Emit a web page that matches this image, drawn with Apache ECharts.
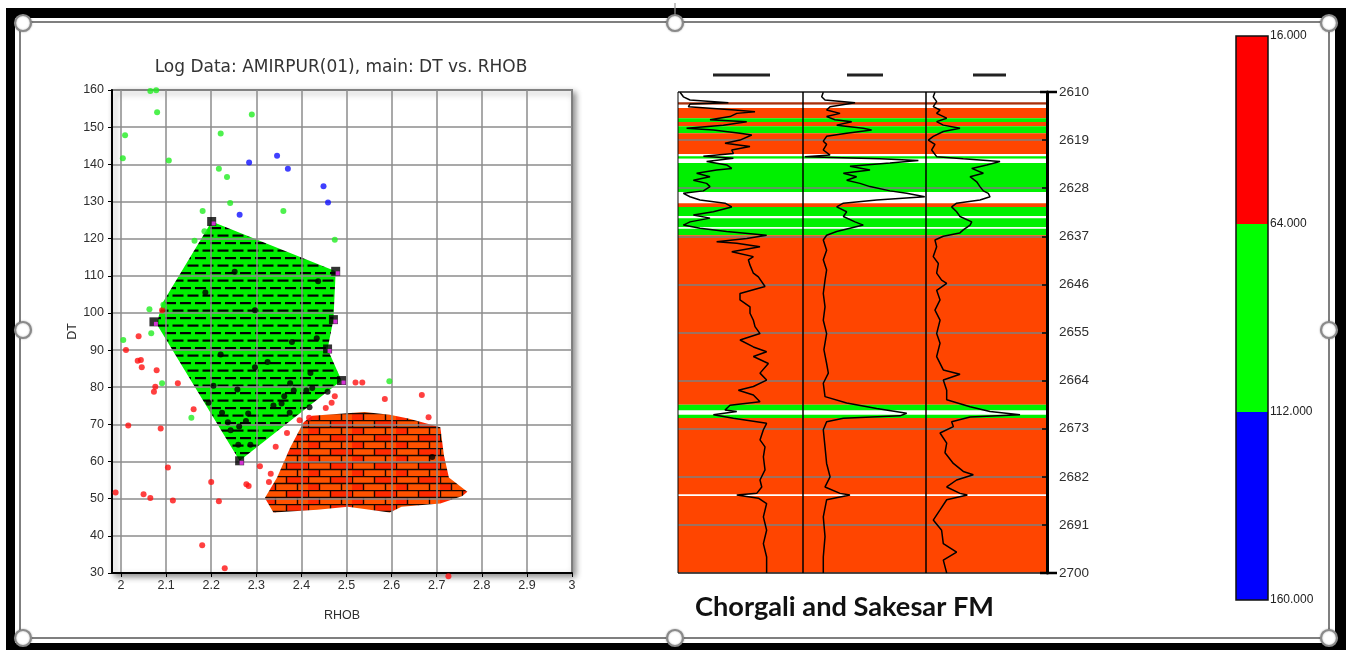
<!DOCTYPE html>
<html>
<head>
<meta charset="utf-8">
<script src="https://cdn.jsdelivr.net/npm/echarts@6/dist/echarts.min.js"></script>
<style>
  html, body { margin: 0; padding: 0; background: #fff; }
  #chart { width: 1346px; height: 650px; }
</style>
</head>
<body>
<div id="chart"></div>
<script>
// ---------- Crossplot: DT vs RHOB ----------
const plotTitle = 'Log Data: AMIRPUR(01), main: DT vs. RHOB';
const formationLabel = 'Chorgali and Sakesar FM';
const rhobTicks = [2, 2.1, 2.2, 2.3, 2.4, 2.5, 2.6, 2.7, 2.8, 2.9, 3];

const greenPoints = [
  [2.065, 159.7], [2.078, 159.9], [2.080, 154.0], [2.290, 153.4], [2.009, 147.8],
  [2.221, 148.3], [2.004, 141.6], [2.106, 141.0], [2.217, 138.8], [2.235, 136.6],
  [2.242, 129.6], [2.181, 127.4], [2.360, 127.4], [2.163, 119.4], [2.474, 119.7],
  [2.185, 122.0], [2.063, 101.0], [2.094, 102.2], [2.067, 94.5], [2.005, 92.7],
  [2.091, 81.1], [2.156, 71.8], [2.595, 81.6]
];
const bluePoints = [
  [2.284, 140.5], [2.346, 142.3], [2.370, 138.8], [2.449, 134.1], [2.459, 129.7], [2.263, 126.4]
];
const redPoints = [
  [1.988, 51.7], [2.011, 90.0], [2.039, 93.7], [2.037, 87.1], [2.044, 87.3], [2.046, 85.4],
  [2.079, 84.6], [2.073, 78.8], [2.076, 80.1], [2.016, 69.7], [2.088, 68.9], [2.126, 81.1],
  [2.161, 74.1], [2.104, 58.4], [2.050, 51.2], [2.065, 50.2], [2.115, 49.5], [2.200, 54.5],
  [2.217, 49.3], [2.180, 37.5], [2.230, 31.3], [2.278, 53.9], [2.283, 53.4], [2.308, 58.7],
  [2.332, 56.7], [2.328, 54.5], [2.343, 64.0], [2.368, 67.7], [2.396, 71.1], [2.417, 71.8],
  [2.454, 74.4], [2.467, 75.8], [2.474, 77.6], [2.520, 81.3], [2.535, 81.3], [2.585, 76.8],
  [2.667, 77.9], [2.682, 71.9], [2.726, 29.1], [2.091, 100.7]
];
const blackPoints = [
  [2.252, 111.1], [2.187, 105.5], [2.437, 108.5], [2.297, 100.7], [2.379, 92.2], [2.434, 93.2],
  [2.221, 88.8], [2.325, 86.8], [2.297, 85.4], [2.420, 83.8], [2.205, 80.4], [2.375, 81.1],
  [2.258, 79.4], [2.383, 79.1], [2.411, 79.1], [2.424, 79.8], [2.458, 78.8], [2.194, 75.8],
  [2.362, 77.6], [2.338, 75.1], [2.356, 75.6], [2.418, 74.6], [2.224, 73.1], [2.282, 72.9],
  [2.374, 73.1], [2.277, 70.9], [2.237, 70.6], [2.243, 68.4], [2.262, 69.4], [2.260, 64.5],
  [2.287, 64.5], [2.690, 61.2]
];
// Zone outline handles and zone polygons
const zoneVertices = [
  [2.201, 124.6], [2.476, 111.2], [2.471, 98.2], [2.458, 90.3], [2.489, 81.8], [2.263, 60.2], [2.073, 97.6]
];
const shaleZone = [
  [2.201, 124.6], [2.476, 111.2], [2.471, 98.2], [2.458, 90.3], [2.489, 81.8],
  [2.263, 60.2], [2.079, 97.0], [2.091, 102.5]
];
const limestoneZone = [
  [2.424, 72.3], [2.540, 73.3], [2.596, 72.6], [2.637, 71.6], [2.708, 69.2], [2.716, 61.7],
  [2.727, 55.7], [2.768, 51.9], [2.757, 50.7], [2.708, 48.7], [2.622, 47.8], [2.596, 46.3],
  [2.503, 47.8], [2.435, 47.0], [2.338, 46.3], [2.319, 50.2], [2.346, 55.7], [2.375, 63.7],
  [2.405, 70.6]
];

// ---------- Log tracks ----------
const depthMin = 2610, depthMax = 2700, depthStep = 9;
// [top depth, bottom depth, facies code]  0 white, 1 limestone, 2 shale, 3 dark band
const faciesBands = [
  [2610.0, 2611.9, 0], [2611.9, 2612.4, 3], [2612.4, 2613.0, 0], [2613.0, 2614.9, 1],
  [2614.9, 2615.6, 2], [2615.6, 2616.4, 1], [2616.4, 2617.7, 2], [2617.7, 2621.6, 1],
  [2621.6, 2622.0, 0], [2622.0, 2622.5, 2], [2622.5, 2623.3, 0], [2623.3, 2628.7, 2],
  [2628.7, 2630.8, 0], [2630.8, 2631.5, 1], [2631.5, 2633.2, 2], [2633.2, 2633.6, 0],
  [2633.6, 2635.3, 2], [2635.3, 2635.6, 0], [2635.6, 2636.8, 2], [2636.8, 2668.5, 1],
  [2668.5, 2669.6, 2], [2669.6, 2670.4, 0], [2670.4, 2671.0, 2], [2671.0, 2685.3, 1],
  [2685.3, 2685.6, 0], [2685.6, 2700.0, 1]
];
const faciesColors = ['#ffffff', '#ff4500', '#00f000', '#a8300c'];

// curve readings: [track scale value 0-100, depth]
const curve1 = [
  [1.6,2610.06],[4.3,2610.9],[9.6,2611.5],[40.3,2612.0],[9.6,2612.25],[8.3,2612.75],[45.6,2613.37],
  [61.6,2613.7],[47,2614.0],[41.6,2614.6],[25.6,2615.2],[55,2615.55],[36.3,2616.2],[6.9,2616.8],
  [28.3,2617.1],[49.6,2617.7],[59,2618.05],[49.6,2619.0],[37.6,2619.6],[57.6,2620.2],[43,2620.85],
  [44.3,2621.5],[20.3,2622.0],[44.3,2622.4],[22.9,2623.0],[38.9,2623.65],[43,2624.3],[30.9,2624.6],
  [14.9,2625.2],[25.6,2625.85],[12.3,2626.5],[22.9,2627.1],[25.6,2627.7],[20.3,2628.5],[4.3,2628.96],
  [9.6,2629.6],[17.6,2630.2],[37.6,2630.8],[43,2631.5],[28.3,2632.4],[12.3,2633.0],[25.6,2633.6],
  [9.6,2634.3],[4.3,2634.9],[17.6,2635.5],[38.9,2636.1],[70.9,2636.8],[55,2637.4],[30.9,2638.0],
  [47,2638.3],[65.6,2638.95],[43,2639.9],[60.3,2640.8],[56.3,2641.4],[57.6,2642.4],[60.3,2643.9],
  [64.3,2644.6],[69.6,2646.4],[49.6,2647.7],[49.6,2648.9],[57.6,2650.2],[57.6,2651.4],[60.3,2652.7],
  [61.6,2653.9],[65.6,2655.2],[49.6,2656.4],[60.3,2657.7],[70.9,2658.6],[60.3,2659.5],[72.3,2660.8],
  [65.6,2662.6],[70.9,2663.9],[60.3,2665.1],[48.3,2665.8],[60.3,2666.7],[65.6,2667.95],[41.6,2668.6],
  [37.6,2669.5],[47,2669.8],[28.3,2670.4],[44.3,2671.05],[70.9,2672.0],[68.3,2673.2],[65.6,2675.1],
  [69.6,2676.4],[68.3,2678.25],[69.6,2680.7],[65.6,2682.6],[67,2683.9],[63,2685.1],[47,2685.4],
  [64.3,2686.0],[70.9,2687.0],[68.3,2689.5],[70.9,2692.0],[68.3,2694.5],[70.9,2697.0],[70.9,2700]
];
const curve2 = [
  [16.5,2610.06],[15.2,2610.9],[17.9,2611.5],[42.3,2612.0],[22,2612.75],[19.2,2613.37],[30.1,2614.0],
  [19.2,2614.6],[26,2615.2],[39.6,2615.55],[27.4,2616.2],[49,2616.8],[55.8,2617.1],[35.5,2617.7],
  [19.2,2618.3],[16.5,2619.2],[19.2,2619.8],[16.5,2620.85],[22,2621.8],[1.6,2622.1],[62.6,2622.5],
  [93.8,2622.8],[70.7,2623.3],[38.2,2623.9],[54.5,2624.6],[32.8,2625.2],[43.6,2625.85],[35.5,2626.5],
  [46.3,2627.1],[54.5,2627.7],[70.7,2628.5],[84.3,2628.96],[99,2629.6],[59.9,2630.2],[32.8,2630.8],
  [27.4,2631.5],[35.5,2632.4],[32.8,2633.3],[42.3,2634.3],[49,2634.9],[38.2,2635.5],[27.4,2636.1],
  [19.2,2636.8],[16.5,2637.7],[19.2,2639.6],[16.5,2641.4],[19.2,2643.3],[17.9,2645.2],[16.5,2647.7],
  [17.9,2650.2],[16.5,2652.7],[19.2,2655.2],[17,2658.2],[19.2,2660.8],[20.6,2662.6],[16.5,2664.5],
  [17.9,2667],[35.5,2668.2],[59.9,2669.2],[84.3,2670.1],[78.9,2670.6],[32.8,2671.05],[19.2,2671.7],
  [16.5,2673.2],[17.9,2676.4],[19.2,2679.5],[22,2682],[17.9,2683.9],[30.1,2685.1],[38.2,2685.4],
  [19.2,2686.3],[16.5,2689.5],[17.9,2693.2],[16.5,2697],[16.5,2700]
];
const curve3 = [
  [7.4,2610.06],[6,2610.9],[8.8,2611.8],[6,2612.75],[11.6,2613.37],[8.8,2614.0],[17.1,2614.9],
  [8.8,2615.55],[14.3,2616.2],[28.1,2616.8],[14.3,2617.4],[6,2618.3],[1.9,2619.0],[7.4,2619.8],
  [4.7,2620.85],[8.8,2622.1],[30.8,2622.5],[61.2,2623.0],[50.2,2623.65],[37.8,2624.3],[47.4,2625.2],
  [36.4,2625.85],[41.9,2626.8],[44.6,2627.7],[47.4,2628.5],[51.5,2628.96],[52.9,2629.6],[44.6,2630.2],
  [25.3,2630.8],[21.2,2631.5],[25.3,2632.4],[28.1,2633.3],[37.8,2634.3],[36.4,2634.9],[30.8,2635.8],
  [27.8,2636.4],[14.3,2637.0],[7.4,2637.7],[8.8,2638.95],[6,2640.8],[10.2,2642.1],[8.8,2643.9],
  [12.9,2645.2],[17.1,2645.8],[8.8,2647.1],[11.6,2648.9],[7.4,2650.8],[11.6,2652.7],[8.8,2655.2],
  [11.6,2657],[8.8,2659.5],[14.3,2662],[28.1,2662.8],[14.3,2663.9],[17.1,2665.8],[17.1,2667.6],
  [36.4,2668.9],[52.9,2669.8],[77.7,2670.4],[36.4,2670.8],[21.2,2671.7],[22.6,2672.6],[11.6,2673.8],
  [17.1,2675.7],[15.7,2677.5],[22.6,2679.5],[30.8,2681],[39.1,2681.6],[25.3,2682.6],[17.1,2683.9],
  [28.1,2685.1],[34.2,2685.4],[17.1,2686.3],[11.6,2688.2],[6,2690.1],[12.9,2692],[14.3,2694.5],
  [25.3,2696.1],[14.3,2697.6],[17.1,2700]
];

// ---------- Colour scale ----------
const scaleStops = [16, 64, 112, 160];
const scaleColors = ['#ff0000', '#00ff00', '#0000ff'];

// ---------- fill patterns ----------
function makeShalePattern() {
  const c = document.createElement('canvas');
  c.width = 30; c.height = 15;
  const g = c.getContext('2d');
  g.fillStyle = '#00f000';
  g.fillRect(0, 0, 30, 15);
  g.fillStyle = '#000';
  g.fillRect(0, 2, 11, 2.2); g.fillRect(15, 2, 11, 2.2);
  g.fillRect(7.5, 9.5, 11, 2.2); g.fillRect(22.5, 9.5, 7.5, 2.2); g.fillRect(0, 9.5, 3.5, 2.2);
  return c;
}
function makeBrickPattern() {
  const w = 44, h = 14;
  const c = document.createElement('canvas');
  c.width = w; c.height = h;
  const g = c.getContext('2d');
  g.fillStyle = '#ff5200';
  g.fillRect(0, 0, w, h);
  g.fillStyle = '#ff2a00';
  g.fillRect(22, 0, 22, 7); g.fillRect(0, 7, 11, 7);
  g.strokeStyle = '#1a0800';
  g.lineWidth = 1.4;
  g.beginPath();
  g.moveTo(0, 0.5); g.lineTo(w, 0.5);
  g.moveTo(0, 7.5); g.lineTo(w, 7.5);
  g.moveTo(0.5, 0); g.lineTo(0.5, 7);
  g.moveTo(22.5, 0); g.lineTo(22.5, 7);
  g.moveTo(11.5, 7); g.lineTo(11.5, 14);
  g.moveTo(33.5, 7); g.lineTo(33.5, 14);
  g.stroke();
  return c;
}
const shalePattern = { image: makeShalePattern(), repeat: 'repeat' };
const brickPattern = { image: makeBrickPattern(), repeat: 'repeat' };

const chart = echarts.init(document.getElementById('chart'), null, { renderer: 'canvas' });

const axisFont = 'Liberation Sans';
const labelColor = '#2e2e2e';

function zoneSeries(points, fill) {
  return {
    type: 'custom', xAxisIndex: 0, yAxisIndex: 0, z: -1, silent: true,
    data: [points[0]],
    renderItem: (params, api) => ({
      type: 'polygon',
      shape: { points: points.map(p => api.coord(p)) },
      style: { fill: fill, stroke: null }
    })
  };
}

function bandSeries(idx) {
  return {
    type: 'custom', xAxisIndex: idx, yAxisIndex: idx, z: 1, silent: true,
    data: faciesBands,
    renderItem: (params, api) => {
      const p1 = api.coord([0, api.value(0)]);
      const p2 = api.coord([100, api.value(1)]);
      return {
        type: 'rect',
        shape: { x: p1[0], y: p1[1], width: p2[0] - p1[0], height: p2[1] - p1[1] },
        style: { fill: faciesColors[api.value(2)] }
      };
    }
  };
}

function curveSeries(idx, data) {
  return {
    type: 'line', xAxisIndex: idx, yAxisIndex: idx, z: 4, silent: true,
    data: data, symbol: 'none', animation: false,
    lineStyle: { color: '#000', width: 1.5 }
  };
}

const trackGrids = [
  { left: 678, top: 92, width: 125, height: 481 },
  { left: 803, top: 92, width: 123, height: 481 },
  { left: 926, top: 92, width: 121, height: 481 }
];

const grids = [
  { left: 112, top: 90, width: 460, height: 483, show: true, z: -5,
    backgroundColor: '#fff', borderColor: '#333', borderWidth: 1.5,
    shadowColor: 'rgba(0,0,0,0.45)', shadowBlur: 6, shadowOffsetX: 3, shadowOffsetY: 3 }
].concat(trackGrids.map(g => Object.assign({ show: true, z: 3, backgroundColor: 'transparent',
  borderColor: '#000', borderWidth: 1 }, g)))
 .concat([{ left: 1236, top: 36, width: 32, height: 564, show: true, z: 3,
   backgroundColor: 'transparent', borderColor: '#111', borderWidth: 1.5 }]);

const xAxes = [
  {
    gridIndex: 0, type: 'value', min: 1.98, max: 3,
    name: 'RHOB', nameLocation: 'middle', nameGap: 36,
    nameTextStyle: { fontFamily: axisFont, fontSize: 12.5, color: labelColor },
    axisLine: { lineStyle: { color: '#000', width: 2 } },
    axisTick: { customValues: rhobTicks, length: 4, lineStyle: { color: '#000' } },
    axisLabel: { customValues: rhobTicks, margin: 6, fontFamily: axisFont, fontSize: 12.5,
      color: labelColor, formatter: v => String(Math.round(v * 10) / 10) },
    splitLine: { show: true, lineStyle: { color: '#8c8c8c', width: 1.5 } }
  }
];
const yAxes = [
  {
    gridIndex: 0, type: 'value', min: 30, max: 160, interval: 10,
    name: 'DT', nameLocation: 'middle', nameGap: 33,
    nameTextStyle: { fontFamily: axisFont, fontSize: 12.5, color: labelColor },
    axisLine: { show: true, lineStyle: { color: '#000', width: 2 } },
    axisTick: { show: true, length: 4, lineStyle: { color: '#000' } },
    axisLabel: { margin: 8, fontFamily: axisFont, fontSize: 12.5, color: labelColor },
    splitLine: { show: true, lineStyle: { color: '#8c8c8c', width: 1.5 } }
  }
];
trackGrids.forEach((g, i) => {
  const idx = i + 1;
  xAxes.push({ gridIndex: idx, type: 'value', min: 0, max: 100, show: false });
  const last = i === trackGrids.length - 1;
  yAxes.push({
    gridIndex: idx, type: 'value', inverse: true, min: depthMin, max: depthMax, interval: depthStep,
    position: 'right', z: 2,
    axisLine: { show: last, onZero: false, lineStyle: { color: '#000', width: 3 } },
    axisTick: { show: last, inside: true, length: 5, lineStyle: { color: '#000', width: 1.5 } },
    axisLabel: { show: last, margin: 12, fontFamily: axisFont, fontSize: 13.5, color: labelColor,
      formatter: v => String(v) },
    splitLine: { show: true, lineStyle: { color: '#7f7f7f', width: 1.5 } }
  });
});
xAxes.push({ gridIndex: 4, type: 'value', min: 0, max: 1, show: false });
yAxes.push({
  gridIndex: 4, type: 'value', inverse: true, min: 16, max: 160, position: 'right',
  axisLine: { show: false }, axisTick: { show: false }, splitLine: { show: false },
  axisLabel: { customValues: scaleStops, margin: 2, fontFamily: axisFont, fontSize: 12,
    color: '#222', formatter: v => v.toFixed(3) }
});

const series = [
  zoneSeries(shaleZone, shalePattern),
  zoneSeries(limestoneZone, brickPattern),
  { type: 'scatter', xAxisIndex: 0, yAxisIndex: 0, z: 5, clip: false, data: redPoints,
    symbolSize: 6, itemStyle: { color: '#ff1010' } },
  { type: 'scatter', xAxisIndex: 0, yAxisIndex: 0, z: 5, clip: false, data: greenPoints,
    symbolSize: 6, itemStyle: { color: '#22ee22' } },
  { type: 'scatter', xAxisIndex: 0, yAxisIndex: 0, z: 5, clip: false, data: bluePoints,
    symbolSize: 6, itemStyle: { color: '#1010ff' } },
  { type: 'scatter', xAxisIndex: 0, yAxisIndex: 0, z: 5, data: blackPoints,
    symbolSize: 6, itemStyle: { color: '#000' } },
  { type: 'scatter', xAxisIndex: 0, yAxisIndex: 0, z: 6, data: zoneVertices,
    symbol: 'rect', symbolSize: 9, itemStyle: { color: '#000' } },
  { type: 'scatter', xAxisIndex: 0, yAxisIndex: 0, z: 7, data: zoneVertices,
    symbol: 'rect', symbolSize: 4, symbolOffset: [2, 2], itemStyle: { color: '#ff33ff' } },
  bandSeries(1), bandSeries(2), bandSeries(3),
  curveSeries(1, curve1), curveSeries(2, curve2), curveSeries(3, curve3),
  {
    type: 'custom', xAxisIndex: 4, yAxisIndex: 4, z: 1, silent: true,
    data: scaleColors.map((c, i) => [scaleStops[i], scaleStops[i + 1], i]),
    renderItem: (params, api) => {
      const p1 = api.coord([0, api.value(0)]);
      const p2 = api.coord([1, api.value(1)]);
      return { type: 'rect',
        shape: { x: p1[0], y: p1[1], width: p2[0] - p1[0], height: p2[1] - p1[1] },
        style: { fill: scaleColors[api.value(2)] } };
    }
  }
];

// slide frame and selection handles
const handlePos = [[23, 23], [675, 23], [1329, 23], [23, 330], [1329, 330], [23, 638], [675, 638], [1329, 638]];
const graphics = [
  { type: 'rect', z: -100, shape: { x: 6, y: 8, width: 1340, height: 642 }, style: { fill: '#000' } },
  { type: 'rect', z: -99, shape: { x: 15, y: 18, width: 1320, height: 625 }, style: { fill: '#fff' } },
  { type: 'rect', z: -98, shape: { x: 20, y: 22, width: 1309, height: 616 },
    style: { fill: null, stroke: '#555', lineWidth: 1.5 } },
  { type: 'line', z: 50, shape: { x1: 675, y1: 3, x2: 675, y2: 16 }, style: { stroke: '#999', lineWidth: 1.2 } },
  { type: 'text', z: 10, style: { x: 341, y: 68, text: plotTitle, textAlign: 'center', textVerticalAlign: 'middle',
    fontFamily: 'DejaVu Sans', fontSize: 17, fill: '#333' } },
  { type: 'text', z: 10, style: { x: 695, y: 607, text: formationLabel, textVerticalAlign: 'middle',
    fontFamily: 'Lato', fontWeight: 'bold', fontSize: 27.2, fill: '#111' } },
  // curve header marks
  { type: 'line', z: 10, shape: { x1: 713, y1: 75, x2: 770, y2: 75 }, style: { stroke: '#222', lineWidth: 3 } },
  { type: 'line', z: 10, shape: { x1: 847, y1: 75, x2: 883, y2: 75 }, style: { stroke: '#222', lineWidth: 3 } },
  { type: 'line', z: 10, shape: { x1: 973, y1: 75, x2: 1006, y2: 75 }, style: { stroke: '#222', lineWidth: 3 } }
].concat(handlePos.map(p => ({
  type: 'circle', z: 100, shape: { cx: p[0], cy: p[1], r: 8 },
  style: { fill: '#fff', stroke: '#8a8a8a', lineWidth: 2.2, shadowBlur: 2, shadowColor: 'rgba(0,0,0,0.3)' }
})));

chart.setOption({
  animation: false,
  grid: grids,
  xAxis: xAxes,
  yAxis: yAxes,
  series: series,
  graphic: { elements: graphics }
});

// end caps on the depth scale
const capTop = chart.convertToPixel({ gridIndex: 3 }, [100, depthMin]);
const capBot = chart.convertToPixel({ gridIndex: 3 }, [100, depthMax]);
chart.setOption({
  graphic: { elements: graphics.concat([
    { type: 'line', z: 10, shape: { x1: capTop[0] - 7, y1: capTop[1], x2: capTop[0] + 10, y2: capTop[1] },
      style: { stroke: '#000', lineWidth: 2.5 } },
    { type: 'line', z: 10, shape: { x1: capBot[0] - 7, y1: capBot[1], x2: capBot[0] + 10, y2: capBot[1] },
      style: { stroke: '#000', lineWidth: 2.5 } }
  ]) }
});
</script>
</body>
</html>
